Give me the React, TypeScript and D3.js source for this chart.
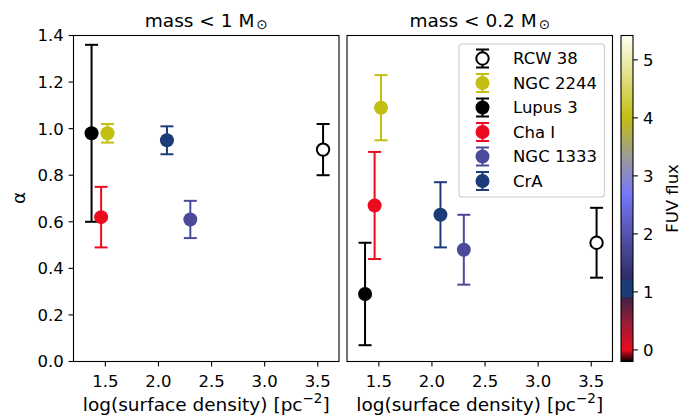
import React from "react";
import * as d3 from "d3";

// ---- data ----
const regions = ["RCW 38", "NGC 2244", "Lupus 3", "Cha I", "NGC 1333", "CrA"];
const logDensity = [3.55, 1.52, 1.37, 1.46, 2.3, 2.08];
const fuvFlux = [5.4, 4.0, -0.2, 0.0, 1.8, 1.0];
const alphaAll = [0.91, 0.98, 0.98, 0.62, 0.61, 0.95];
const errAll = [0.11, 0.04, 0.38, 0.13, 0.08, 0.06];
const alphaLow = [0.51, 1.09, 0.29, 0.67, 0.48, 0.63];
const errLow = [0.15, 0.14, 0.22, 0.23, 0.15, 0.14];
const xTicks = [1.5, 2.0, 2.5, 3.0, 3.5];
const yTicks = [0, 0.2, 0.4, 0.6, 0.8, 1.0, 1.2, 1.4];
const cbTicks = [0, 1, 2, 3, 4, 5];
const cmapValues = [-0.2, 0.0, 0.45, 0.9, 0.92, 1.2, 1.21, 1.8, 2.7, 3.3, 4.0, 5.42];
const cmapColors = [
  "#000000", "#ec0a1e", "#9e1c36", "#3c2248", "#1b3c78", "#1b3c78",
  "#2b2c68", "#4b4a9a", "#7878fa", "#9a9a9a", "#c2be12", "#fffff2",
];

const FONT = "DejaVu Sans, sans-serif";
const FS = 16.5;
const FL = 18.5;

const cmap = d3.scaleLinear<string>().domain(cmapValues).range(cmapColors).interpolate(d3.interpolateRgb).clamp(true);

const top = 35.5;
const bottom = 361.5;
const y = d3.scaleLinear().domain([0, 1.4]).range([bottom, top]);
const panels = [
  { x0: 73.5, x1: 339, title: "mass < 1 M", vals: alphaAll, errs: errAll, yLabels: true, legend: false },
  { x0: 347, x1: 612.5, title: "mass < 0.2 M", vals: alphaLow, errs: errLow, yLabels: false, legend: true },
];

const cbX0 = 621, cbX1 = 633;
const cbScale = d3.scaleLinear().domain([-0.2, 5.42]).range([bottom, top]);

function isLight(c: string) {
  const h = d3.hsl(c);
  return h.l > 0.9;
}

function Marker({ cx, cy, face }: { cx: number; cy: number; face: string }) {
  const light = isLight(face);
  return light ? (
    <circle cx={cx} cy={cy} r={6.2} fill="#ffffff" stroke="#000" strokeWidth={2} />
  ) : (
    <circle cx={cx} cy={cy} r={7} fill={face} />
  );
}

function ErrorBar({ cx, yTop, yBot, color }: { cx: number; yTop: number; yBot: number; color: string }) {
  const cap = 6.5;
  return (
    <g stroke={color} strokeWidth={2} fill="none">
      <line x1={cx} x2={cx} y1={yTop} y2={yBot} />
      <line x1={cx - cap} x2={cx + cap} y1={yTop} y2={yTop} />
      <line x1={cx - cap} x2={cx + cap} y1={yBot} y2={yBot} />
    </g>
  );
}

export default function App() {
  const gradStops = cmapValues.map((v, i) => ({
    offset: (cbScale(v) - bottom) / (top - bottom),
    color: cmapColors[i],
  }));
  return (
    <svg width={690} height={418} style={{ position: "absolute", left: 0, top: 0, background: "#fff" }} fontFamily={FONT}>
      <defs>
        <linearGradient id="cbgrad" x1="0" y1="1" x2="0" y2="0">
          {gradStops.map((s, i) => (
            <stop key={i} offset={Math.max(0, Math.min(1, s.offset))} stopColor={s.color} />
          ))}
        </linearGradient>
      </defs>
      <rect x={0} y={0} width={690} height={418} fill="#fff" />
      {panels.map((p, pi) => {
        const x = d3.scaleLinear().domain([1.2, 3.7]).range([p.x0, p.x1]);
        const cx = (p.x0 + p.x1) / 2;
        return (
          <g key={pi}>
            {regions.map((r, i) => {
              const face = cmap(fuvFlux[i]);
              const ec = isLight(face) ? "#000" : face;
              const px = x(logDensity[i]);
              return (
                <g key={r}>
                  <ErrorBar cx={px} yTop={y(p.vals[i] + p.errs[i])} yBot={y(p.vals[i] - p.errs[i])} color={ec} />
                  <Marker cx={px} cy={y(p.vals[i])} face={face} />
                </g>
              );
            })}
            <rect x={p.x0} y={top} width={p.x1 - p.x0} height={bottom - top} fill="none" stroke="#000" strokeWidth={1.1} />
            {xTicks.map((t) => (
              <g key={t}>
                <line x1={x(t)} x2={x(t)} y1={bottom} y2={bottom + 4.9} stroke="#000" strokeWidth={1.1} />
                <text x={x(t)} y={386.5} textAnchor="middle" fontSize={FS} fill="#000">
                  {t.toFixed(1)}
                </text>
              </g>
            ))}
            {p.yLabels &&
              yTicks.map((t) => (
                <g key={t}>
                  <line x1={p.x0 - 4.9} x2={p.x0} y1={y(t)} y2={y(t)} stroke="#000" strokeWidth={1.1} />
                  <text x={p.x0 - 9.8} y={y(t)} dy="0.36em" textAnchor="end" fontSize={FS} fill="#000">
                    {t.toFixed(1)}
                  </text>
                </g>
              ))}
            <text x={cx} y={410.5} textAnchor="middle" fontSize={FL} fill="#000">
              log(surface density) [pc
              <tspan dy={-8} fontSize={13.5}>−2</tspan>
              <tspan dy={8}>]</tspan>
            </text>
            <text x={cx} y={26.5} textAnchor="middle" fontSize={FL} fill="#000">
              {p.title}
              <tspan dx={2} dy={2.5} fontSize={13.5}>⊙</tspan>
            </text>
            {p.legend && (
              <g>
                <rect x={459} y={44} width={145.5} height={153} rx={3} fill="#fff" fillOpacity={0.8} stroke="#cccccc" strokeWidth={1.1} />
                {regions.map((r, i) => {
                  const face = cmap(fuvFlux[i]);
                  const ec = isLight(face) ? "#000" : face;
                  const ry = 58.5 + i * 24.5;
                  return (
                    <g key={r}>
                      <ErrorBar cx={482.5} yTop={ry - 9} yBot={ry + 9} color={ec} />
                      <Marker cx={482.5} cy={ry} face={face} />
                      <text x={513} y={ry} dy="0.36em" fontSize={FS} fill="#000">
                        {r}
                      </text>
                    </g>
                  );
                })}
              </g>
            )}
          </g>
        );
      })}
      <text transform="translate(25,198) rotate(-90)" textAnchor="middle" fontSize={FL} fill="#000">
        α
      </text>
      <rect x={cbX0} y={top} width={cbX1 - cbX0} height={bottom - top} fill="url(#cbgrad)" stroke="#000" strokeWidth={1.1} />
      {cbTicks.map((t) => (
        <g key={t}>
          <line x1={cbX1} x2={cbX1 + 4.9} y1={cbScale(t)} y2={cbScale(t)} stroke="#000" strokeWidth={1.1} />
          <text x={643} y={cbScale(t)} dy="0.36em" fontSize={FS} fill="#000">
            {t}
          </text>
        </g>
      ))}
      <text transform={`translate(678,${(top + bottom) / 2}) rotate(-90)`} textAnchor="middle" fontSize={FS} fill="#000">
        FUV flux
      </text>
    </svg>
  );
}
